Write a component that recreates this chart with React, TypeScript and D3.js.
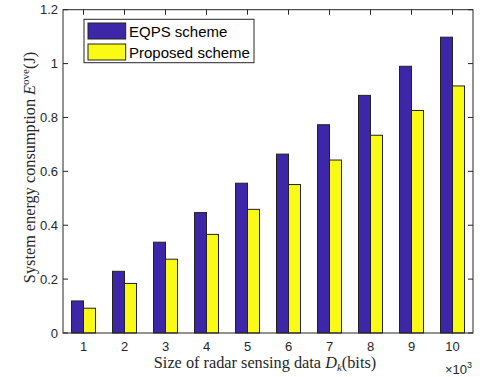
import React from "react";
import * as d3 from "d3";

const categories = ["1", "2", "3", "4", "5", "6", "7", "8", "9", "10"];
const eqpsValues = [0.119, 0.229, 0.337, 0.447, 0.556, 0.664, 0.773, 0.882, 0.99, 1.098];
const proposedValues = [0.092, 0.184, 0.274, 0.366, 0.459, 0.551, 0.642, 0.734, 0.826, 0.917];
const seriesNames = ["EQPS scheme", "Proposed scheme"];
const seriesColors = ["#3e26a8", "#f9fb15"];
const yTicks = [0, 0.2, 0.4, 0.6, 0.8, 1, 1.2];

const W = 484;
const H = 377;
const left = 63;
const right = 473;
const top = 9.7;
const bottom = 333;
const axisColor = "#262626";
const sans = "'Liberation Sans', Arial, sans-serif";
const serif = "'Liberation Serif', 'Times New Roman', serif";

export default function App() {
  const x = d3.scaleBand().domain(categories).range([left, right])
    .paddingInner(0.415).paddingOuter(0.2075);
  const xs = d3.scaleBand().domain(seriesNames).range([0, x.bandwidth()]);
  const y = d3.scaleLinear().domain([0, 1.2]).range([bottom, top]);
  const series = [eqpsValues, proposedValues];
  const tickLen = 5;

  return (
    <svg width={W} height={H} style={{ position: "absolute", left: 0, top: 0, background: "#fff" }}>
      {/* bars */}
      {series.map((vals, si) =>
        vals.map((v, i) => (
          <rect key={`${si}-${i}`}
            x={(x(categories[i]) ?? 0) + (xs(seriesNames[si]) ?? 0)}
            y={y(v)}
            width={xs.bandwidth()}
            height={y(0) - y(v)}
            fill={seriesColors[si]}
            stroke="#222"
            strokeWidth={1} />
        ))
      )}

      {/* box */}
      <rect x={left} y={top} width={right - left} height={bottom - top}
        fill="none" stroke={axisColor} strokeWidth={1} />

      {/* x ticks */}
      {categories.map(c => {
        const cx = (x(c) ?? 0) + x.bandwidth() / 2;
        return (
          <g key={c}>
            <line x1={cx} x2={cx} y1={bottom} y2={bottom - tickLen} stroke={axisColor} />
            <line x1={cx} x2={cx} y1={top} y2={top + tickLen} stroke={axisColor} />
            <text x={cx} y={351} textAnchor="middle" fontFamily={sans} fontSize={13} fill={axisColor}>{c}</text>
          </g>
        );
      })}

      {/* y ticks */}
      {yTicks.map(t => (
        <g key={t}>
          <line x1={left} x2={left + tickLen} y1={y(t)} y2={y(t)} stroke={axisColor} />
          <line x1={right} x2={right - tickLen} y1={y(t)} y2={y(t)} stroke={axisColor} />
          <text x={left - 5} y={y(t) + 4.5} textAnchor="end" fontFamily={sans} fontSize={13} fill={axisColor}>{d3.format("")(t)}</text>
        </g>
      ))}

      {/* x label */}
      <text x={265} y={368} textAnchor="middle" fontFamily={serif} fontSize={16.3} fill={axisColor}>
        Size of radar sensing data <tspan fontStyle="italic">D</tspan>
        <tspan fontStyle="italic" fontSize={11} dy={3}>k</tspan>
        <tspan dy={-3}>(bits)</tspan>
      </text>
      <text x={445} y={374} fontFamily={sans} fontSize={13} fill={axisColor}>
        ×10<tspan fontSize={9} dy={-6}>3</tspan>
      </text>

      {/* y label */}
      <text transform={`translate(35,167.5) rotate(-90)`} textAnchor="middle"
        fontFamily={serif} fontSize={16.3} fill={axisColor}>
        System energy consumption <tspan fontStyle="italic">E</tspan>
        <tspan fontSize={11} dy={-6}>ove</tspan>
        <tspan dy={6}>(J)</tspan>
      </text>

      {/* legend */}
      <rect x={84} y={19.3} width={170} height={43.4} fill="#fff" stroke={axisColor} strokeWidth={1} />
      {seriesNames.map((n, i) => (
        <g key={n}>
          <rect x={88} y={23 + i * 21} width={37.7} height={16} fill={seriesColors[i]} stroke="#222" />
          <text x={129} y={36.5 + i * 21} fontFamily={sans} fontSize={15} fill="#000">{n}</text>
        </g>
      ))}
    </svg>
  );
}
